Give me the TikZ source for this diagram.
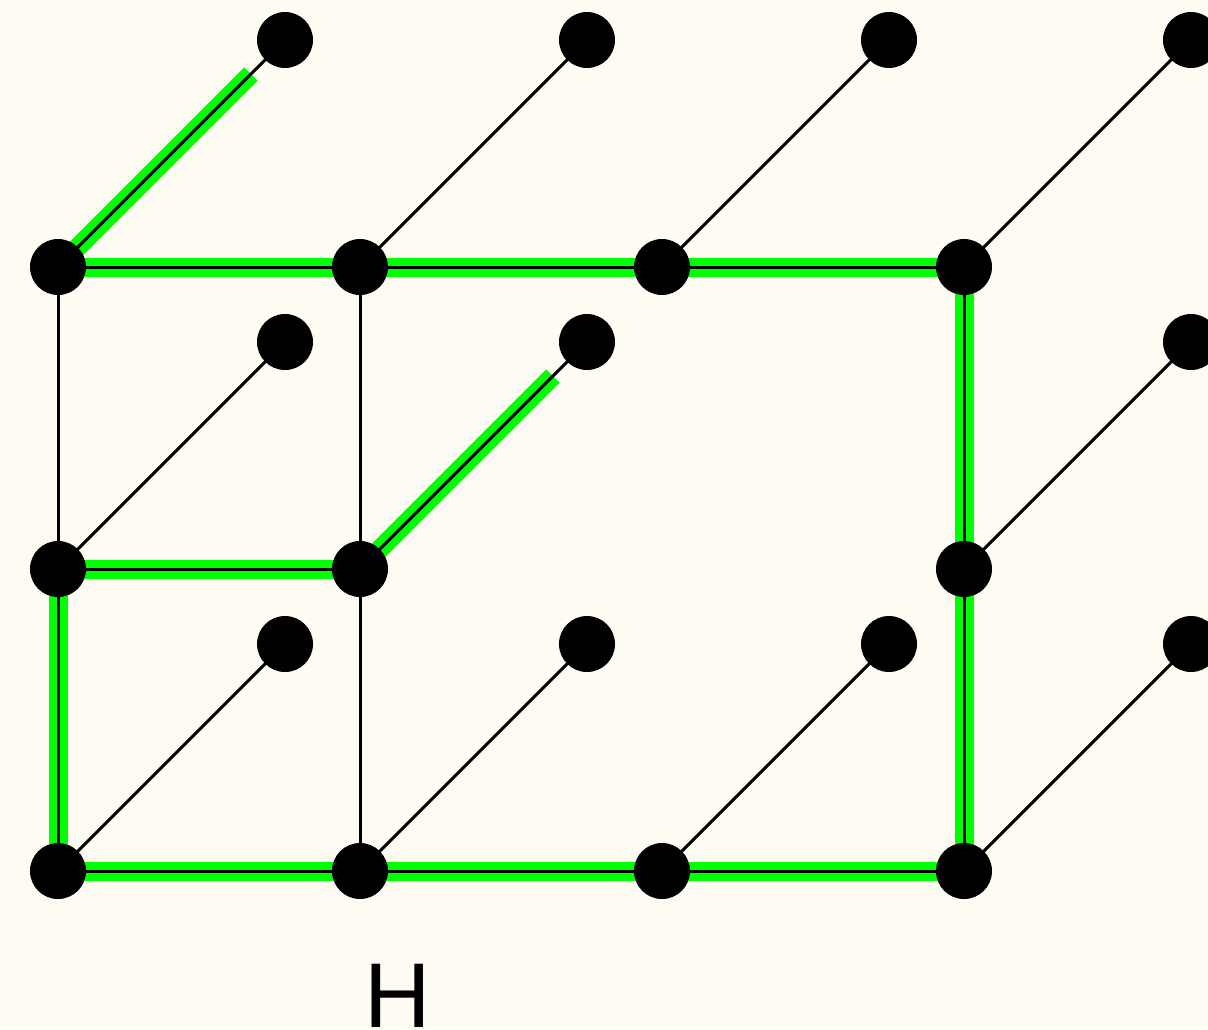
\documentclass[tikz,border=0pt]{standalone}
\usepackage{fontspec}
\setmainfont{Liberation Sans}
\usetikzlibrary{calc}
\definecolor{paper}{RGB}{254,251,243}
\definecolor{hl}{RGB}{0,255,0}
\pgfdeclarelayer{back}
\pgfdeclarelayer{mid}
\pgfsetlayers{back,mid,main}
\begin{document}
\begin{tikzpicture}[x=1pt,y=-1pt,
  dot/.style={circle,fill=black,minimum size=56pt,inner sep=0pt},
  edge/.style={line width=3pt,black},
  glow/.style={line width=19pt,hl}]
\begin{pgfonlayer}{back}
\fill[paper] (0,0) rectangle (1208,1029);
\end{pgfonlayer}
\useasboundingbox (0,0) rectangle (1208,1029);
% front nodes
\node[dot] (a1) at (58,267) {};
\node[dot] (a2) at (360,267) {};
\node[dot] (a3) at (662,267) {};
\node[dot] (a4) at (964,267) {};
\node[dot] (b1) at (58,569) {};
\node[dot] (b2) at (360,569) {};
\node[dot] (b4) at (964,569) {};
\node[dot] (c1) at (58,871) {};
\node[dot] (c2) at (360,871) {};
\node[dot] (c3) at (662,871) {};
\node[dot] (c4) at (964,871) {};
% back nodes
\node[dot] (A1) at (285,40) {};
\node[dot] (A2) at (587,40) {};
\node[dot] (A3) at (889,40) {};
\node[dot] (A4) at (1191,40) {};
\node[dot] (B1) at (285,342) {};
\node[dot] (B2) at (587,342) {};
\node[dot] (B4) at (1191,342) {};
\node[dot] (C1) at (285,644) {};
\node[dot] (C2) at (587,644) {};
\node[dot] (C3) at (889,644) {};
\node[dot] (C4) at (1191,644) {};
% label
\node[anchor=base,font=\fontsize{92}{92}\selectfont,inner sep=0pt] (lab) at (398,1027) {H};
% highlighted path
\begin{pgfonlayer}{back}
\draw[glow] (a1.center) -- (a2.center) -- (a3.center) -- (a4.center);
\draw[glow] (a4.center) -- (b4.center) -- (c4.center);
\draw[glow] (c1.center) -- (c2.center) -- (c3.center) -- (c4.center);
\draw[glow] (b1.center) -- (c1.center);
\draw[glow] (b1.center) -- (b2.center);
\draw[glow] (a1.center) -- ($(a1.center)!0.85!(A1.center)$);
\draw[glow] (b2.center) -- ($(b2.center)!0.85!(B2.center)$);
\end{pgfonlayer}
% edges
\begin{pgfonlayer}{mid}
\draw[edge] (a1.center) -- (a2.center) -- (a3.center) -- (a4.center);
\draw[edge] (b1.center) -- (b2.center);
\draw[edge] (c1.center) -- (c2.center) -- (c3.center) -- (c4.center);
\draw[edge] (a1.center) -- (b1.center) -- (c1.center);
\draw[edge] (a2.center) -- (b2.center) -- (c2.center);
\draw[edge] (a4.center) -- (b4.center) -- (c4.center);
\foreach \f/\b in {a1/A1,a2/A2,a3/A3,a4/A4,b1/B1,b2/B2,b4/B4,c1/C1,c2/C2,c3/C3,c4/C4}
  \draw[edge] (\f.center) -- (\b.center);
\end{pgfonlayer}
\end{tikzpicture}
\end{document}
